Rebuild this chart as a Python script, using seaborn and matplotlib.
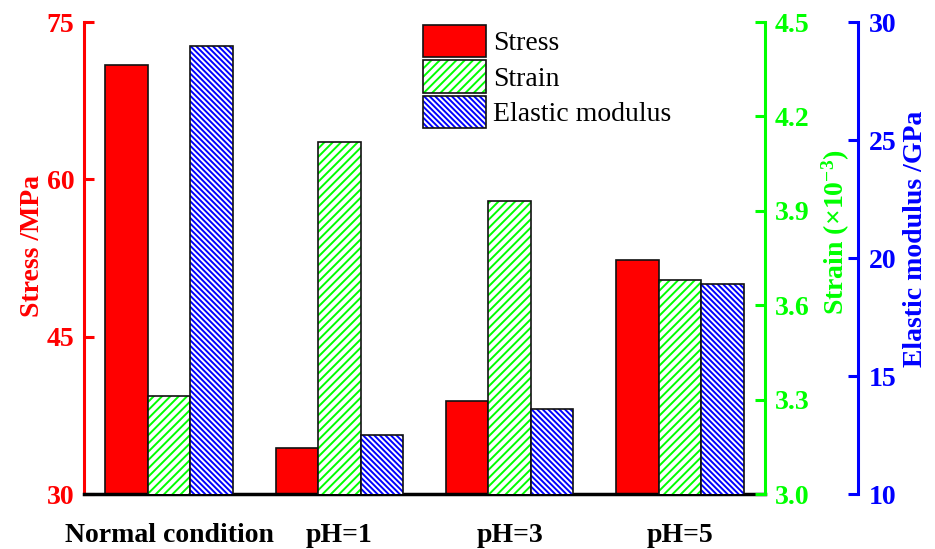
import matplotlib
matplotlib.use("Agg")
import matplotlib.pyplot as plt
import matplotlib.colors as mcolors
from matplotlib.patches import Patch
import seaborn as sns
import pandas as pd

categories = ["Normal condition", "pH=1", "pH=3", "pH=5"]
stress = [70.9, 34.4, 38.9, 52.3]          # MPa
strain = [3.31, 4.12, 3.93, 3.68]          # x10^-3
modulus = [29.0, 12.5, 13.6, 18.9]         # GPa
series = ["Stress", "Strain", "Elastic modulus"]
stress_ticks = [30, 45, 60, 75]
strain_ticks = [3.0, 3.3, 3.6, 3.9, 4.2, 4.5]
modulus_ticks = [10, 15, 20, 25, 30]

RED, GREEN, BLUE = "#FF0000", "#00FF00", "#0000FF"
GREEN_HATCH = "////"
BLUE_HATCH = "\\" * 6

sns.set_theme(style="white")
plt.rcParams["font.family"] = ["Liberation Serif", "DejaVu Serif"]
plt.rcParams["text.color"] = "black"
plt.rcParams["mathtext.fontset"] = "custom"
plt.rcParams["mathtext.rm"] = "Liberation Serif"
plt.rcParams["mathtext.bf"] = "Liberation Serif:bold"
plt.rcParams["mathtext.default"] = "bf"
plt.rcParams["hatch.linewidth"] = 1.4

fig = plt.figure(figsize=(9.35, 5.49), dpi=100)
ax = fig.add_axes([84/935, 1-494/549, (765-84)/935, (494-22)/549])
ax2 = ax.twinx()
ax3 = ax.twinx()

def frame(s, vals):
    return pd.DataFrame({"cat": categories, "val": vals, "series": s})

palette = {"Stress": RED, "Strain": "white", "Elastic modulus": "white"}
common = dict(x="cat", y="val", hue="series", hue_order=series, order=categories,
              palette=palette, width=0.75, gap=0, dodge=True, legend=False, saturation=1,
              edgecolor="#111111", linewidth=1.2, err_kws={"linewidth": 0})

sns.barplot(data=frame("Stress", stress), ax=ax, **common)
sns.barplot(data=frame("Strain", strain), ax=ax2, hatch=GREEN_HATCH, **common)
sns.barplot(data=frame("Elastic modulus", modulus), ax=ax3, hatch=BLUE_HATCH, **common)

for p in ax2.patches:
    p._hatch_color = mcolors.to_rgba(GREEN)
for p in ax3.patches:
    p._hatch_color = mcolors.to_rgba(BLUE)

ax.set_xlim(-0.5, 3.5)
ax.set_ylim(30, 75)
ax2.set_ylim(3.0, 4.5)
ax3.set_ylim(10, 30)
ax.set_yticks(stress_ticks)
ax2.set_yticks(strain_ticks)
ax2.set_yticklabels([f"{t:.1f}" for t in strain_ticks])
ax3.set_yticks(modulus_ticks)

fs = 20
for a in (ax, ax2, ax3):
    for s in a.spines.values():
        s.set_visible(False)
    a.set_xlabel("")
    a.grid(False)

ax.spines["left"].set_visible(True)
ax.spines["left"].set_color(RED)
ax.spines["left"].set_linewidth(2.2)
ax.spines["bottom"].set_visible(True)
ax.spines["bottom"].set_color("black")
ax.spines["bottom"].set_linewidth(2.5)
ax.spines["bottom"].set_zorder(5)

ax2.spines["right"].set_visible(True)
ax2.spines["right"].set_color(GREEN)
ax2.spines["right"].set_linewidth(2.2)

ax3.spines["right"].set_visible(True)
ax3.spines["right"].set_color(BLUE)
ax3.spines["right"].set_linewidth(2.2)
ax3.spines["right"].set_position(("axes", (858-84)/(765-84)))

ax.tick_params(axis="y", direction="in", length=7, width=2.2, colors=RED,
               labelsize=fs, pad=7, left=True)
ax2.tick_params(axis="y", direction="in", length=7, width=2.2, colors=GREEN,
                labelsize=fs, pad=7, right=True)
ax3.tick_params(axis="y", direction="in", length=7, width=2.2, colors=BLUE,
                labelsize=fs, pad=8, right=True)
ax.tick_params(axis="x", length=0, labelsize=fs, pad=21, colors="black")
for a in (ax2, ax3):
    a.tick_params(axis="x", length=0)

for lab in ax.get_xticklabels() + ax.get_yticklabels():
    lab.set_fontweight("bold")
for lab in ax2.get_yticklabels() + ax3.get_yticklabels():
    lab.set_fontweight("bold")

ax.set_ylabel("Stress /MPa", color=RED, fontsize=fs, fontweight="bold")
ax.yaxis.set_label_coords(-0.057, 0.525)
ax2.set_ylabel("Strain (×10$^{-3}$)", color=GREEN, fontsize=fs, fontweight="bold")
ax2.yaxis.set_label_coords(1.081, 0.555)
ax3.set_ylabel("Elastic modulus /GPa", color=BLUE, fontsize=fs, fontweight="bold")
ax3.yaxis.set_label_coords(1.2026, 0.54)

handles = [
    Patch(facecolor=RED, edgecolor="#111111", linewidth=1.2),
    Patch(facecolor="white", edgecolor="#111111", linewidth=1.2, hatch=GREEN_HATCH),
    Patch(facecolor="white", edgecolor="#111111", linewidth=1.2, hatch=BLUE_HATCH),
]
leg = fig.legend(handles, series, loc="upper left", bbox_to_anchor=(423/935, 1-25/549),
                 frameon=False, fontsize=fs, handlelength=2.27, handleheight=1.4,
                 labelspacing=0.12, handletextpad=0.25, borderpad=0, borderaxespad=0,
                 labelcolor="black")
lp = leg.get_patches()
lp[1]._hatch_color = mcolors.to_rgba(GREEN)
lp[2]._hatch_color = mcolors.to_rgba(BLUE)

fig.savefig("out.png", dpi=100)
